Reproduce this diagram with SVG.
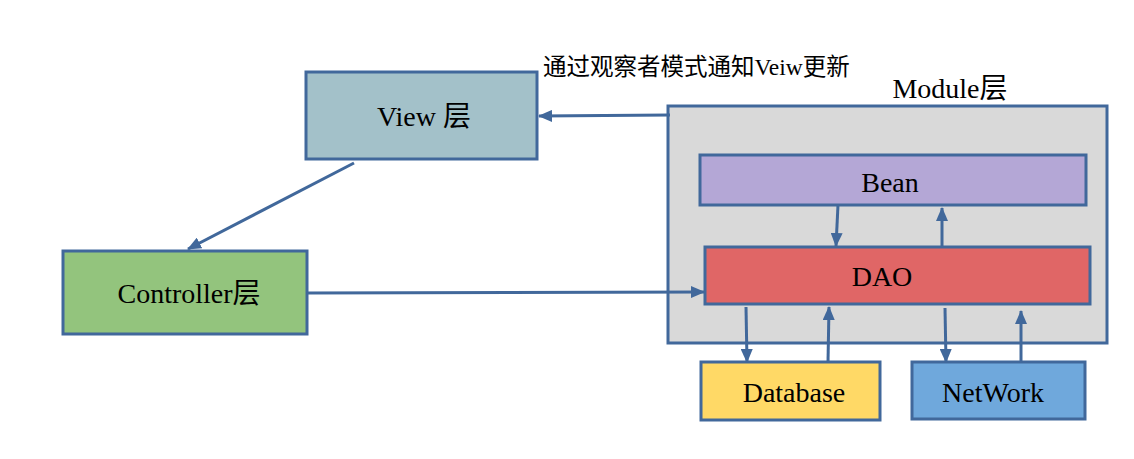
<svg xmlns="http://www.w3.org/2000/svg" width="1134" height="459" viewBox="0 0 1134 459">
<style>
.box{stroke:#41689b;stroke-width:3}
.lbl{font-family:"Liberation Serif","Noto Sans CJK SC",serif;font-size:28px;fill:#000;text-anchor:middle}
.edge{stroke:#41689b;stroke-width:3;fill:none;marker-end:url(#ah)}
</style>
<defs>
<marker id="ah" viewBox="0 0 14 12" refX="13" refY="6" markerWidth="14" markerHeight="12" markerUnits="userSpaceOnUse" orient="auto">
<path d="M0,0 L14,6 L0,12 Z" fill="#41689b"/>
</marker>
</defs>
<rect width="1134" height="459" fill="#fff"/>
<g id="module">
<rect class="box" x="668" y="106" width="439" height="237" fill="#d9d9d9"/>
<text class="lbl" x="950" y="98">Module层</text>
</g>
<g id="view">
<rect class="box" x="306" y="72" width="231" height="87" fill="#a3c1c9"/>
<text class="lbl" x="424" y="126">View 层</text>
</g>
<g id="controller">
<rect class="box" x="63" y="251" width="244" height="83" fill="#93c47d"/>
<text class="lbl" x="189" y="303">Controller层</text>
</g>
<g id="bean">
<rect class="box" x="700" y="155" width="386" height="50" fill="#b4a7d6"/>
<text class="lbl" x="890" y="192">Bean</text>
</g>
<g id="dao">
<rect class="box" x="705" y="247" width="385" height="57" fill="#e06666"/>
<text class="lbl" x="882" y="286">DAO</text>
</g>
<g id="database">
<rect class="box" x="701" y="362" width="179" height="58" fill="#ffd966"/>
<text class="lbl" x="794" y="402">Database</text>
</g>
<g id="network">
<rect class="box" x="912" y="362" width="173" height="57" fill="#6fa8dc"/>
<text class="lbl" x="993" y="402">NetWork</text>
</g>
<g id="notify-label">
<text x="543" y="75" style="font-family:'Liberation Serif','Noto Sans CJK SC',serif;font-size:23.5px;fill:#000">通过观察者模式通知Veiw更新</text>
</g>
<g id="connectors">
<path class="edge" d="M670,115 L539,116"/>
<path class="edge" d="M354,163 L188,249"/>
<path class="edge" d="M307,293 L704,292"/>
<path class="edge" d="M838,205 L836,246"/>
<path class="edge" d="M942,247 L942,208"/>
<path class="edge" d="M746,307 L747,362"/>
<path class="edge" d="M828,362 L829,307"/>
<path class="edge" d="M945,308 L946,362"/>
<path class="edge" d="M1021,363 L1021,311"/>
</g>
</svg>
